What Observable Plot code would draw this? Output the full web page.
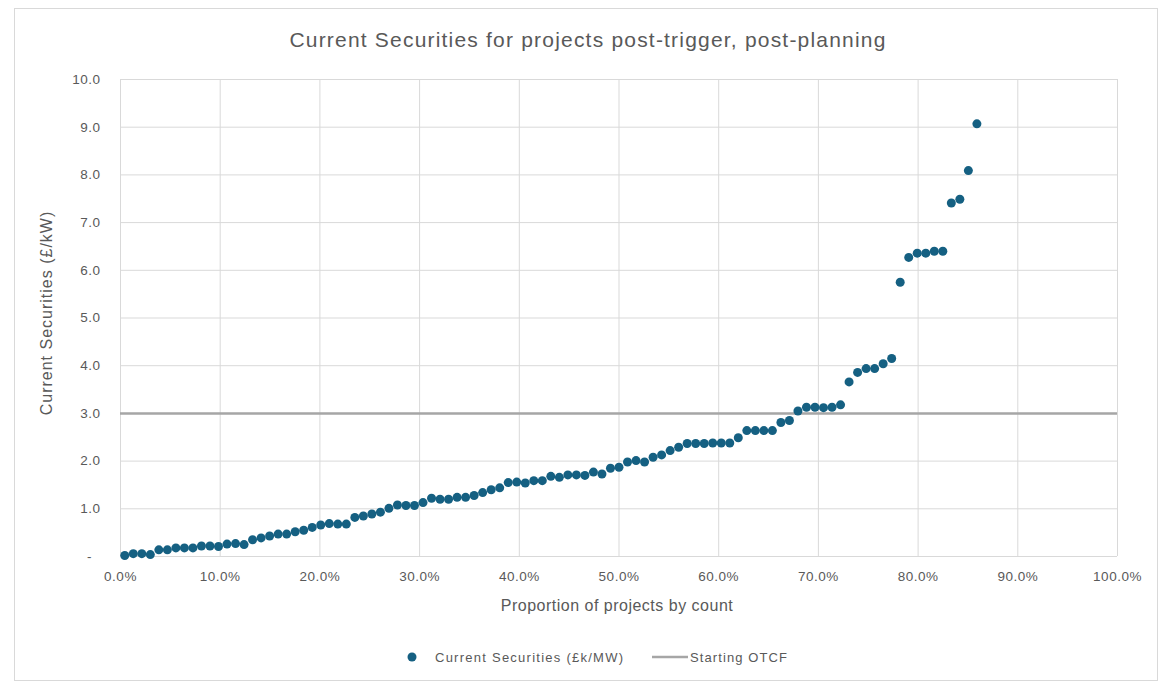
<!DOCTYPE html>
<html>
<head>
<meta charset="utf-8">
<script src="https://cdn.jsdelivr.net/npm/d3@7"></script>
<script src="https://cdn.jsdelivr.net/npm/@observablehq/plot@0.6"></script>
<style>
  body { margin: 0; background: #fff; }
  #wrap { position: relative; width: 1165px; height: 685px; font-family: "Liberation Sans", Arial, sans-serif; color: #595959; }
  #border { position: absolute; left: 14px; top: 8px; width: 1144px; height: 673px; border: 1px solid #d9d9d9; box-sizing: border-box; }
  #title { position: absolute; left: 0; width: 1176px; top: 28px; text-align: center; font-size: 21px; letter-spacing: 1.2px; }
  #chart { position: absolute; left: 0; top: 0; }
  #xtitle { position: absolute; left: 0; width: 1234px; top: 597px; text-align: center; font-size: 16px; letter-spacing: 0.5px; }
  #ytitle { position: absolute; left: 47px; top: 313px; transform: translate(-50%, -50%) rotate(-90deg); white-space: nowrap; font-size: 16px; letter-spacing: 1px; }
  #legend { position: absolute; top: 648px; left: 0; width: 1165px; height: 20px; font-size: 13px; }
</style>
</head>
<body>
<div id="wrap">
  <div id="border"></div>
  <div id="title">Current Securities for projects post-trigger, post-planning</div>
  <div id="chart"></div>
  <div id="xtitle">Proportion of projects by count</div>
  <div id="ytitle">Current Securities (£/kW)</div>
  <div id="legend"></div>
</div>
<script>
// ---- data ----
const projectCount = 117;  // total projects (x = share of projects by count)
const securities = [
  0.02, 0.06, 0.06, 0.04, 0.14, 0.14, 0.18, 0.18, 0.18, 0.22,
  0.22, 0.21, 0.26, 0.27, 0.25, 0.35, 0.39, 0.43, 0.47, 0.47,
  0.52, 0.55, 0.61, 0.66, 0.69, 0.68, 0.68, 0.82, 0.85, 0.89,
  0.93, 1.01, 1.08, 1.07, 1.07, 1.13, 1.22, 1.20, 1.20, 1.24,
  1.24, 1.28, 1.34, 1.40, 1.44, 1.55, 1.56, 1.54, 1.59, 1.59,
  1.68, 1.66, 1.71, 1.71, 1.70, 1.77, 1.73, 1.85, 1.87, 1.98,
  2.01, 1.98, 2.08, 2.13, 2.22, 2.29, 2.37, 2.37, 2.37, 2.38,
  2.38, 2.38, 2.49, 2.64, 2.64, 2.64, 2.64, 2.81, 2.85, 3.05,
  3.13, 3.13, 3.12, 3.13, 3.18, 3.66, 3.86, 3.94, 3.94, 4.04,
  4.15, 5.75, 6.27, 6.36, 6.36, 6.40, 6.40, 7.41, 7.49, 8.09,
  9.07
];
const startingOTCF = 3.0;
const xTicks = [0, 0.1, 0.2, 0.3, 0.4, 0.5, 0.6, 0.7, 0.8, 0.9, 1.0];
const yTicks = [0, 1, 2, 3, 4, 5, 6, 7, 8, 9, 10];
const seriesNames = ["Current Securities (£k/MW)", "Starting OTCF"];
const dotColor = "#156082";
const lineColor = "#a6a6a6";

const points = securities.map((v, i) => ({share: (i + 0.5) / projectCount, value: v}));

const xFmt = d3.format(".1%");
const yFmt = d => d === 0 ? "-\u00a0\u00a0" : d.toFixed(1);

const chart = Plot.plot({
  width: 1165,
  height: 600,
  marginLeft: 120,
  marginRight: 48,
  marginTop: 79,
  marginBottom: 44,
  style: {fontFamily: "Liberation Sans, Arial, sans-serif", fontSize: "13.5px", color: "#595959", background: "transparent", letterSpacing: "0.5px"},
  x: {domain: [0, 1]},
  y: {domain: [0, 10]},
  marks: [
    Plot.gridX(xTicks, {stroke: "#d9d9d9", strokeOpacity: 1, strokeWidth: 1}),
    Plot.gridY(yTicks, {stroke: "#d9d9d9", strokeOpacity: 1, strokeWidth: 1}),
    Plot.axisX({ticks: xTicks, tickSize: 0, tickPadding: 15, tickFormat: xFmt, label: null, fill: "#595959", fontSize: 13.5}),
    Plot.axisY({ticks: yTicks, tickSize: 0, tickPadding: 20, tickFormat: yFmt, label: null, fill: "#595959", fontSize: 13.5}),
    Plot.ruleY([startingOTCF], {stroke: lineColor, strokeWidth: 2.5}),
    Plot.dot(points, {x: "share", y: "value", r: 4.5, fill: dotColor, stroke: "none"})
  ]
});
document.getElementById("chart").appendChild(chart);

// legend
const lg = d3.select("#legend").append("svg").attr("width", 1165).attr("height", 20)
  .style("font-family", "Liberation Sans, Arial, sans-serif").style("font-size", "13px");
lg.append("circle").attr("cx", 412).attr("cy", 9).attr("r", 4.5).attr("fill", dotColor);
lg.append("text").attr("x", 435).attr("y", 13.5).attr("fill", "#595959").attr("textLength", 188).text(seriesNames[0]);
lg.append("line").attr("x1", 652).attr("x2", 688).attr("y1", 9).attr("y2", 9).attr("stroke", lineColor).attr("stroke-width", 2.5);
lg.append("text").attr("x", 690).attr("y", 13.5).attr("fill", "#595959").attr("textLength", 97).text(seriesNames[1]);
</script>
</body>
</html>
